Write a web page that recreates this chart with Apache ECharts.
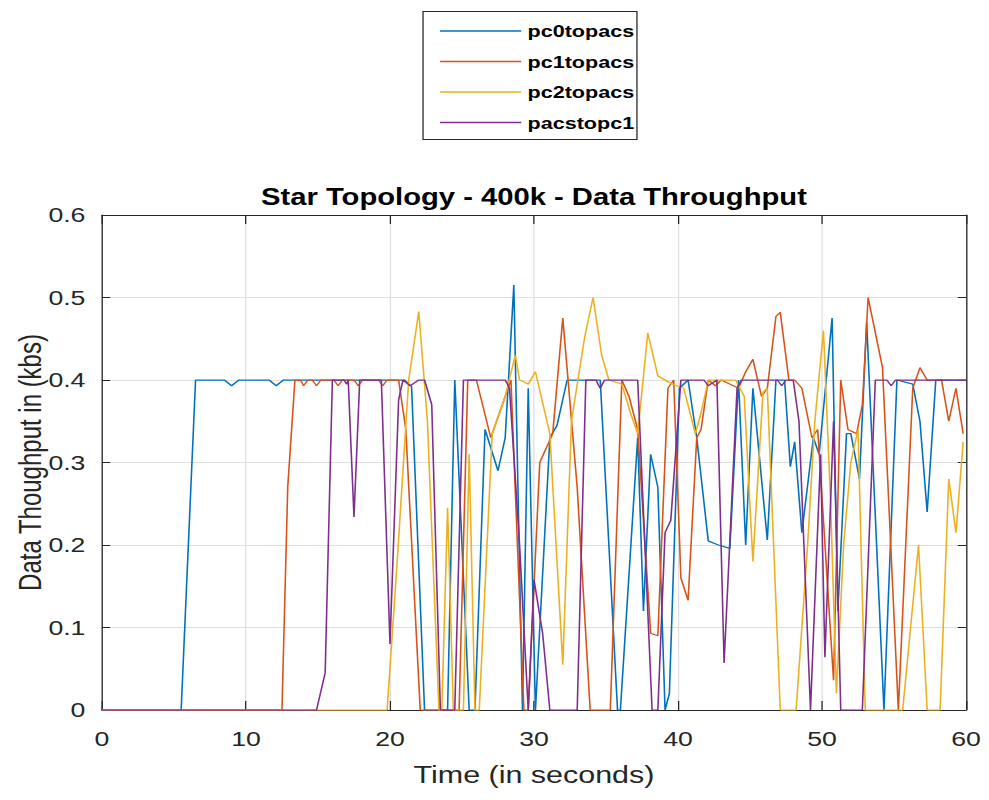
<!DOCTYPE html>
<html>
<head>
<meta charset="utf-8">
<script src="https://cdn.jsdelivr.net/npm/echarts@6/dist/echarts.min.js"></script>
<style>
  html, body { margin: 0; padding: 0; background: #fff; overflow: hidden; }
  /* The figure is laid out on a narrower canvas and widened to the page width,
     which gives the text its broad, stretched look. */
  #chart { width: 779px; height: 800px; transform: scaleX(1.2696); transform-origin: 0 0; }
</style>
</head>
<body>
<div id="chart"></div>
<script>
// Throughput samples per link: [time in s, throughput in kbs]
const pc0topacs = [
  [0,0],[5.5,0],[6.5,0.4],[8.5,0.4],[9.0,0.393],[9.5,0.4],[11.6,0.4],[12.1,0.393],[12.6,0.4],
  [21.0,0.4],[21.5,0.392],[22.4,0],[24.0,0],[24.5,0.4],[25.5,0],[25.9,0],[26.6,0.34],[27.5,0.29],
  [28.0,0.33],[28.6,0.515],[29.2,0],[29.6,0.39],[30.1,0],[31.1,0.33],[31.6,0.345],[32.3,0.4],
  [34.6,0.4],[35.8,0],[36.0,0],[37.2,0.33],[37.6,0.12],[38.1,0.31],[38.6,0.27],[39.1,0],[39.4,0.02],
  [40.1,0.39],[40.7,0.4],[41.3,0.33],[42.1,0.205],[42.8,0.2],[43.6,0.196],[44.2,0.4],[44.7,0.2],
  [45.2,0.39],[46.2,0.206],[46.8,0.4],[47.4,0.4],[47.8,0.295],[48.1,0.325],[48.6,0.215],[49.4,0.33],
  [49.8,0.31],[50.7,0.475],[51.1,0.12],[51.7,0.335],[52.0,0.335],[52.6,0.28],[53.1,0.47],[54.3,0],
  [55.2,0.4],[56.3,0.395],[56.8,0.35],[57.3,0.24],[57.9,0.4],[60,0.4]
];
const pc1topacs = [
  [0,0],[12.5,0],[12.9,0.27],[13.4,0.4],[13.8,0.4],[14.0,0.393],[14.3,0.4],[14.6,0.4],[14.9,0.393],
  [15.2,0.4],[16.1,0.4],[16.4,0.393],[16.7,0.4],[17.5,0.4],[17.8,0.393],[18.1,0.4],[19.2,0.4],
  [19.5,0.393],[19.8,0.4],[20.6,0.4],[21.1,0.34],[22.1,0],[24.8,0],[25.4,0.4],[26.0,0.4],[27.0,0.33],
  [28.0,0.38],[28.4,0.4],[29.3,0],[29.6,0],[30.4,0.3],[31.3,0.335],[32.0,0.475],[33.0,0.27],[33.9,0],
  [35.3,0],[36.1,0.4],[36.6,0.38],[37.2,0.34],[38.1,0.093],[38.6,0.09],[39.3,0.39],[39.7,0.4],
  [40.2,0.16],[40.7,0.133],[41.3,0.33],[41.6,0.34],[42.1,0.4],[42.6,0.393],[43.0,0.4],[44.2,0.39],
  [44.7,0.41],[45.2,0.425],[45.8,0.38],[46.2,0.39],[46.8,0.477],[47.1,0.482],[47.7,0.4],[48.1,0.4],
  [48.6,0.39],[49.3,0.33],[49.7,0.34],[50.8,0.036],[51.3,0.4],[51.8,0.34],[52.4,0.335],[52.8,0.37],
  [53.2,0.5],[54.2,0.415],[55.3,0],[56.3,0.39],[56.8,0.415],[57.3,0.4],[58.3,0.4],[58.8,0.35],
  [59.3,0.39],[59.8,0.335]
];
const pc2topacs = [
  [0,0],[19.8,0],[20.5,0.18],[21.3,0.4],[22.0,0.483],[22.6,0.35],[23.4,0],[23.6,0],[24.0,0.245],
  [24.4,0],[25.1,0],[25.5,0.31],[25.9,0],[26.2,0],[27.1,0.335],[28.0,0.38],[28.7,0.43],[29.0,0.4],
  [29.6,0.395],[30.1,0.41],[31.1,0.335],[32.0,0.055],[32.6,0.35],[33.5,0.45],[34.1,0.5],[34.7,0.43],
  [35.2,0.4],[36.1,0.395],[36.7,0.36],[37.2,0.335],[37.9,0.457],[38.6,0.405],[39.6,0.395],[40.4,0.39],
  [41.2,0.335],[41.6,0.36],[42.1,0.4],[44.0,0.4],[44.6,0.38],[45.2,0.18],[45.9,0.385],[46.2,0.39],
  [47.1,0],[48.2,0],[49.0,0.2],[49.5,0.35],[50.1,0.46],[50.6,0.25],[51.0,0.02],[51.5,0.2],[52.0,0.3],
  [52.5,0.34],[53.0,0],[55.6,0],[56.7,0.2],[57.3,0],[58.2,0],[58.8,0.28],[59.3,0.215],[59.8,0.325]
];
const pacstopc1 = [
  [0,0],[14.9,0],[15.5,0.045],[16.0,0.4],[16.8,0.4],[17.0,0.395],[17.1,0.4],[17.5,0.234],[17.9,0.4],
  [19.4,0.4],[20.0,0.08],[20.6,0.376],[20.9,0.4],[21.4,0.393],[22.0,0.4],[22.4,0.4],[22.9,0.37],
  [23.5,0],[24.5,0],[25.1,0.4],[28.0,0.4],[28.3,0.39],[29.0,0.2],[29.6,0],[30.0,0.158],[30.6,0.093],
  [31.1,0],[33.0,0],[33.6,0.4],[34.3,0.4],[34.6,0.39],[34.9,0.4],[37.2,0.4],[38.2,0],[38.6,0],
  [39.1,0.215],[39.5,0.23],[40.2,0.4],[41.8,0.4],[42.1,0.393],[42.7,0.4],[43.2,0.057],[44.1,0.39],
  [44.4,0.4],[46.9,0.4],[47.2,0.393],[47.5,0.4],[48.0,0.4],[48.4,0.35],[49.2,0],[49.9,0.31],
  [50.2,0.064],[50.8,0.35],[51.3,0],[52.8,0],[53.7,0.4],[54.5,0.4],[54.8,0.393],[55.1,0.4],[60,0.4]
];

const seriesNames = ['pc0topacs', 'pc1topacs', 'pc2topacs', 'pacstopc1'];
const seriesData = [pc0topacs, pc1topacs, pc2topacs, pacstopc1];
const seriesColors = ['#0072BD', '#D95319', '#EDB120', '#7E2F8E'];

const xTicks = { min: 0, max: 60, interval: 10 };
const yTicks = { min: 0, max: 0.6, interval: 0.1 };

const FONT = '"Liberation Sans", Arial, sans-serif';
const AXIS_COLOR = '#262626';
const GRID_COLOR = '#dfdfdf';
const GRID = { left: 80.3, top: 215, right: 18.1, bottom: 90, containLabel: false, outerBoundsMode: 'none' };

const chart = echarts.init(document.getElementById('chart'), null, { renderer: 'svg' });

function frameAxis(tickLen) {
  return {
    axisLine: { show: true, onZero: false, lineStyle: { color: AXIS_COLOR, width: 1 } },
    axisTick: { show: true, inside: true, length: tickLen, lineStyle: { color: AXIS_COLOR } },
    axisLabel: { show: false },
    splitLine: { show: false }
  };
}

chart.setOption({
  animation: false,
  backgroundColor: '#ffffff',
  grid: GRID,
  legend: {
    orient: 'vertical',
    left: 346.5,
    top: 21,
    padding: 0,
    icon: 'rect',
    itemWidth: 64,
    itemHeight: 1.5,
    itemGap: 10.5,
    data: seriesNames,
    textStyle: { fontFamily: FONT, fontWeight: 'bold', fontSize: 17, lineHeight: 20, color: '#000' }
  },
  graphic: [
    {
      type: 'rect',
      shape: { x: 333.2, y: 11.5, width: 168.5, height: 128 },
      style: { fill: '#fff', stroke: AXIS_COLOR, lineWidth: 1 },
      z: -1
    },
    {
      type: 'text',
      x: 420.6, y: 197,
      style: {
        text: 'Star Topology - 400k - Data Throughput',
        font: 'bold 23px ' + FONT,
        fill: '#000',
        textAlign: 'center',
        textVerticalAlign: 'middle'
      }
    }
  ],
  xAxis: [
    {
      type: 'value', position: 'bottom',
      min: xTicks.min, max: xTicks.max, interval: xTicks.interval,
      name: 'Time (in seconds)', nameLocation: 'middle', nameGap: 53, nameMoveOverlap: false,
      nameTextStyle: { fontFamily: FONT, fontSize: 24, color: AXIS_COLOR },
      axisLine: { show: true, onZero: false, lineStyle: { color: AXIS_COLOR, width: 1 } },
      axisTick: { show: true, inside: true, length: 9, lineStyle: { color: AXIS_COLOR } },
      axisLabel: { margin: 18, fontFamily: FONT, fontSize: 21, color: AXIS_COLOR },
      splitLine: { show: true, lineStyle: { color: GRID_COLOR, width: 1 } }
    },
    Object.assign({ type: 'value', position: 'top', min: xTicks.min, max: xTicks.max, interval: xTicks.interval }, frameAxis(9))
  ],
  yAxis: [
    {
      type: 'value', position: 'left',
      min: yTicks.min, max: yTicks.max, interval: yTicks.interval,
      name: 'Data Thoughput in (kbs)', nameLocation: 'middle', nameGap: 44, nameMoveOverlap: false,
      nameTextStyle: { fontFamily: FONT, fontSize: 24, color: AXIS_COLOR },
      axisLine: { show: true, onZero: false, lineStyle: { color: AXIS_COLOR, width: 1 } },
      axisTick: { show: true, inside: true, length: 6.5, lineStyle: { color: AXIS_COLOR } },
      axisLabel: {
        margin: 13, fontFamily: FONT, fontSize: 21, color: AXIS_COLOR,
        formatter: v => (v === 0 ? '0' : v.toFixed(1))
      },
      splitLine: { show: true, lineStyle: { color: GRID_COLOR, width: 1 } }
    },
    Object.assign({ type: 'value', position: 'right', min: yTicks.min, max: yTicks.max, interval: yTicks.interval }, frameAxis(6.5))
  ],
  series: seriesNames.map((name, i) => ({
    name,
    type: 'line',
    xAxisIndex: 0,
    yAxisIndex: 0,
    data: seriesData[i],
    symbol: 'none',
    showSymbol: false,
    color: seriesColors[i],
    lineStyle: { color: seriesColors[i], width: 1.25 },
    z: 2 + i
  }))
});
</script>
</body>
</html>
